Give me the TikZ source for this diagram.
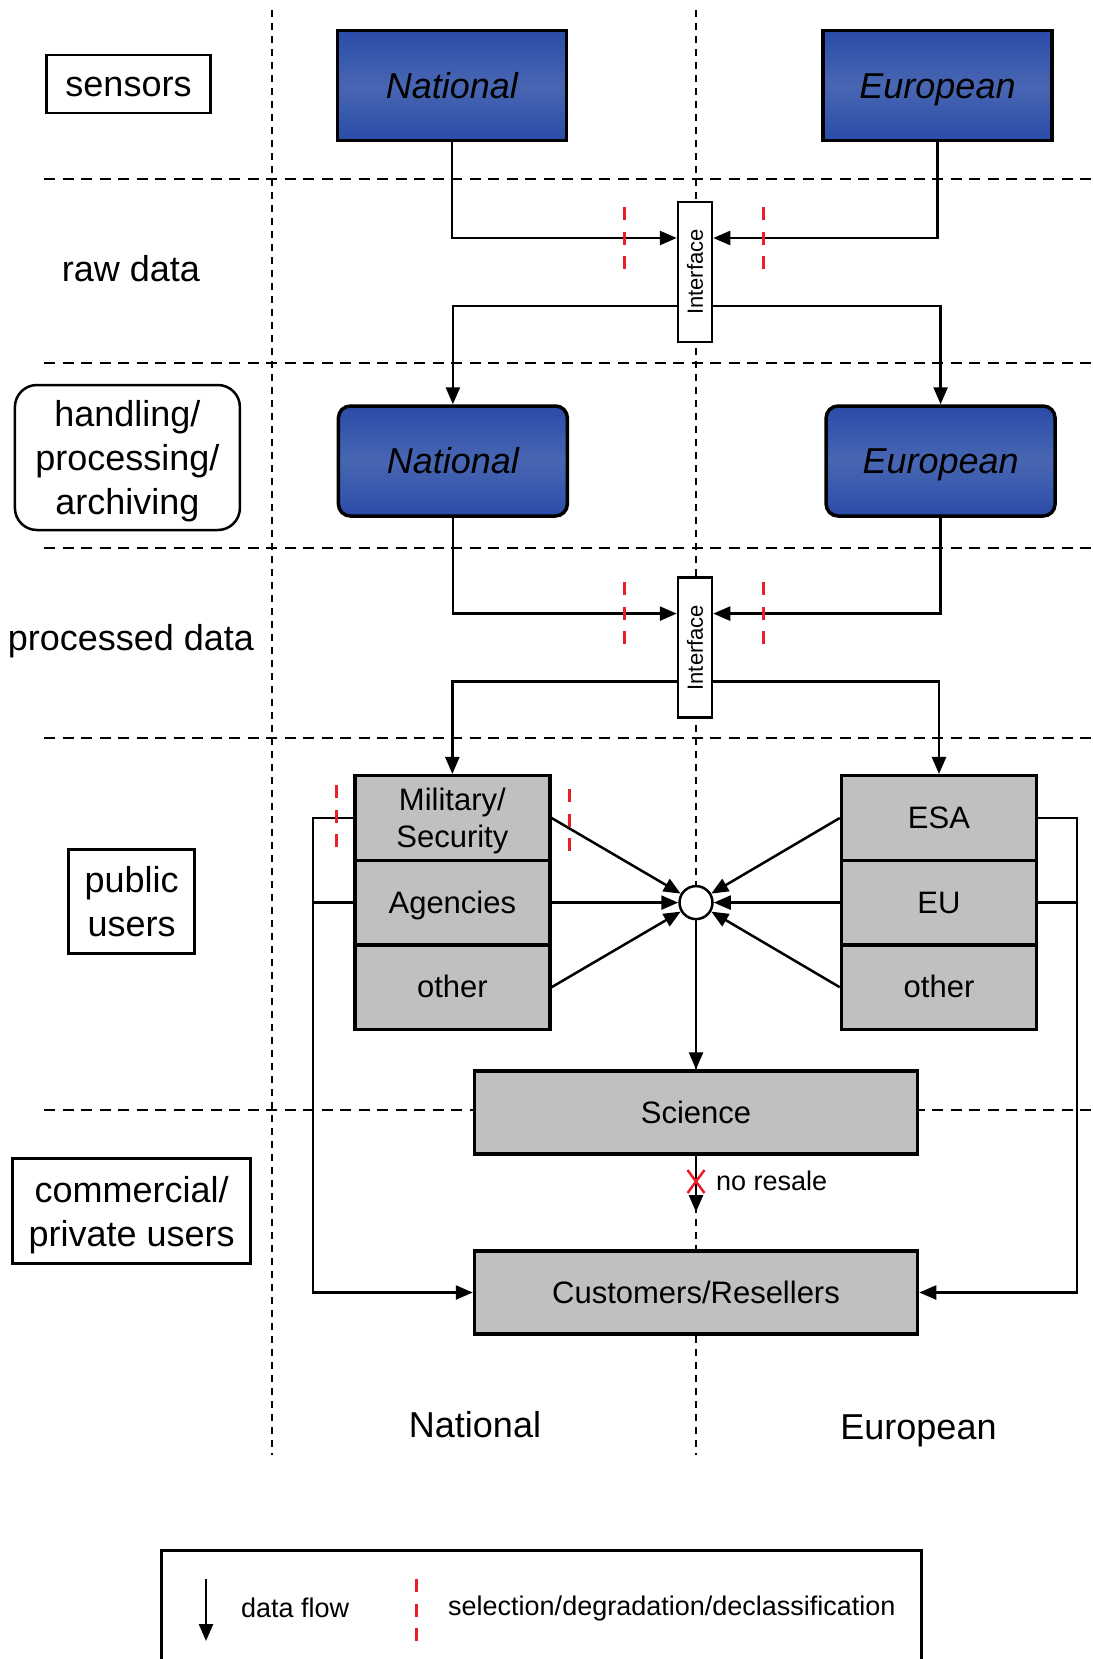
\documentclass[tikz,border=0pt]{standalone}
\usepackage{fontspec}
\setmainfont{Liberation Sans}
\usepackage{xcolor}
\usepackage{tikz}
\usetikzlibrary{arrows.meta}
\usetikzlibrary{positioning}

\definecolor{navyA}{RGB}{28,40,102}
\definecolor{blueB}{RGB}{30,66,165}
\definecolor{blueC}{RGB}{72,102,178}
\definecolor{boxgray}{RGB}{192,192,192}
\definecolor{cutred}{RGB}{232,30,40}

\pgfdeclareverticalshading{bluebar}{100bp}{color(0bp)=(navyA); color(15bp)=(blueB); color(50bp)=(blueC); color(85bp)=(blueB); color(100bp)=(navyA)}

\newcommand{\lblfnt}{\fontsize{36}{44}\selectfont}
\newcommand{\boxfnt}{\fontsize{31}{37}\selectfont}
\newcommand{\ifcfnt}{\fontsize{22}{26}\selectfont}
\newcommand{\legfnt}{\fontsize{27}{32}\selectfont}

\tikzset{
    layer/.style={
      rectangle,
      draw=black, line width=2.5pt,
      inner sep=2pt,
      align=center,
      font=\lblfnt,
    },
    bigline/.style={text height=27pt, text depth=2pt},
    smallline/.style={text height=23pt, text depth=1.5pt},
    source/.style={
      rectangle,
      draw=black, line width=3.5pt,
      shade, shading=bluebar,
      minimum width=229pt, minimum height=110pt,
      font=\lblfnt\itshape, bigline,
    },
    iface/.style={
      rectangle,
      draw=black, line width=2.5pt, fill=white,
      minimum width=34pt, minimum height=140pt,
      inner sep=0pt,
      font=\ifcfnt,
    },
    user/.style={
      rectangle,
      draw=black, line width=3.5pt, fill=boxgray,
      minimum width=195pt, minimum height=84.6pt,
      align=center,
      font=\boxfnt,
    },
    flow/.style={->, line width=2.5pt},
    cut/.style={cutred, line width=3pt, dash pattern=on 13pt off 11.5pt},
    hgrid/.style={line width=2pt, dash pattern=on 11pt off 7.5pt},
    vgrid/.style={line width=2pt, dash pattern=on 7pt off 6pt},
    note/.style={font=\legfnt, anchor=west, inner sep=0pt},
}

\begin{document}
\begin{tikzpicture}[x=1pt, y=-1pt, >={Triangle[length=17pt,width=14pt]}]

    \useasboundingbox (0,0) rectangle (1092,1659);

    \foreach \y in {179,363,548,737.5,1110}
      \draw[hgrid] (44,\y) -- (1092,\y);
    \foreach \x in {272,696}
      \draw[vgrid] (\x,10) -- (\x,1455);

    \node[layer, bigline, minimum width=164pt, minimum height=58pt] (sens) at (128.5,84) {sensors};
    \node[font=\lblfnt, bigline] (raw) at (131,269) {raw data};
    \node[layer, rounded corners=22pt, minimum width=225pt, minimum height=145pt, text depth=-8pt] (hand) at (127.4,457.5)
      {handling/\\processing/\\archiving};
    \node[font=\lblfnt, bigline] (proc) at (131,638) {processed data};
    \node[layer, minimum width=126pt, minimum height=104pt, text depth=-6pt] (pub) at (131.7,901.5) {public\\users};
    \node[layer, minimum width=238pt, minimum height=105pt, text depth=-6pt] (comm) at (131.7,1211) {commercial/\\private users};

    \node[source] (natS) at (451.8,85.7) {National};
    \node[source] (eurS) at (937.5,85.7) {European};
    \node[source, rounded corners=12pt] (natM) at (452.9,461) {National};
    \node[source, rounded corners=12pt] (eurM) at (940.6,461) {European};

    \node[iface] (if1) at (695,272) {\rotatebox{90}{Interface}};
    \node[iface] (if2) at (695,647.6) {\rotatebox{90}{Interface}};

    \node[user, text depth=-7pt] (mil) at (452.35,818) {Military/\\Security};
    \node[user, smallline] (agen) at (452.35,902.6) {Agencies};
    \node[user, smallline] (othN) at (452.35,987.2) {other};
    \node[user, smallline] (esa) at (939,818) {ESA};
    \node[user, smallline] (eu) at (939,902.6) {EU};
    \node[user, smallline] (othE) at (939,987.2) {other};

    \node[circle, draw=black, line width=2.5pt, fill=white, minimum size=33pt, inner sep=0pt] (hub) at (696,902.6) {};

    \node[user, smallline, minimum width=443pt, minimum height=83pt] (sci) at (696,1112.6) {Science};
    \node[user, smallline, minimum width=443pt, minimum height=83pt] (cust) at (696,1292.5) {Customers/Resellers};

    \node[font=\lblfnt, bigline] (colN) at (475,1425) {National};
    \node[font=\lblfnt, bigline] (colE) at (918.5,1427) {European};

    \draw[flow] (natS.south) |- ([yshift=34pt]if1.west);
    \draw[flow] (eurS.south) |- ([yshift=34pt]if1.east);
    \draw[flow] ([yshift=-34pt]if1.west) -| (natM.north);
    \draw[flow] ([yshift=-34pt]if1.east) -| (eurM.north);

    \draw[flow] (natM.south) |- ([yshift=34pt]if2.west);
    \draw[flow] (eurM.south) |- ([yshift=34pt]if2.east);
    \draw[flow] ([yshift=-34pt]if2.west) -| (mil.north);
    \draw[flow] ([yshift=-34pt]if2.east) -| (esa.north);

    \path[flow]
    (mil.east) edge (hub)
    (agen.east) edge (hub)
    (othN.east) edge (hub)
    (esa.west) edge (hub)
    (eu.west) edge (hub)
    (othE.west) edge (hub)
    (hub) edge (sci)
    ;

    \coordinate (stop) at (696,1212);
    \draw[flow] (sci.south) -- (stop);
    \draw[cutred, line width=2.5pt] (687.5,1170) -- (704.5,1193) (704.5,1170) -- (687.5,1193);
    \node[note] (resale) at (716,1181) {no resale};

    \coordinate (lbus) at (313,1292.5);
    \coordinate (rbus) at (1077,1292.5);
    \draw[flow] (mil.west) -| (lbus) -- (cust.west);
    \draw[line width=2.5pt] (agen.west) -- (agen.west -| lbus);
    \draw[flow] (esa.east) -| (rbus) -- (cust.east);
    \draw[line width=2.5pt] (eu.east) -- (eu.east -| rbus);

    \foreach \x in {624,763} {
      \draw[cut] (\x,207) -- (\x,269);
      \draw[cut] (\x,582) -- (\x,644);
    }
    \draw[cut] (336.5,785) -- (336.5,847);
    \draw[cut] (569.3,789) -- (569.3,851);

    \node[draw=black, line width=3pt, minimum width=760pt, minimum height=122pt, anchor=north west] (legend) at (160,1549) {};
    \coordinate (lgtop) at (206,1579);
    \coordinate (lgbot) at (206,1641);
    \draw[flow] (lgtop) -- (lgbot);
    \node[note] (lgflow) at (241,1608) {data flow};
    \draw[cut] (416,1579) -- (416,1641);
    \node[note] (lgcut) at (448,1608) {selection/degradation/declassification};

\end{tikzpicture}
\end{document}
